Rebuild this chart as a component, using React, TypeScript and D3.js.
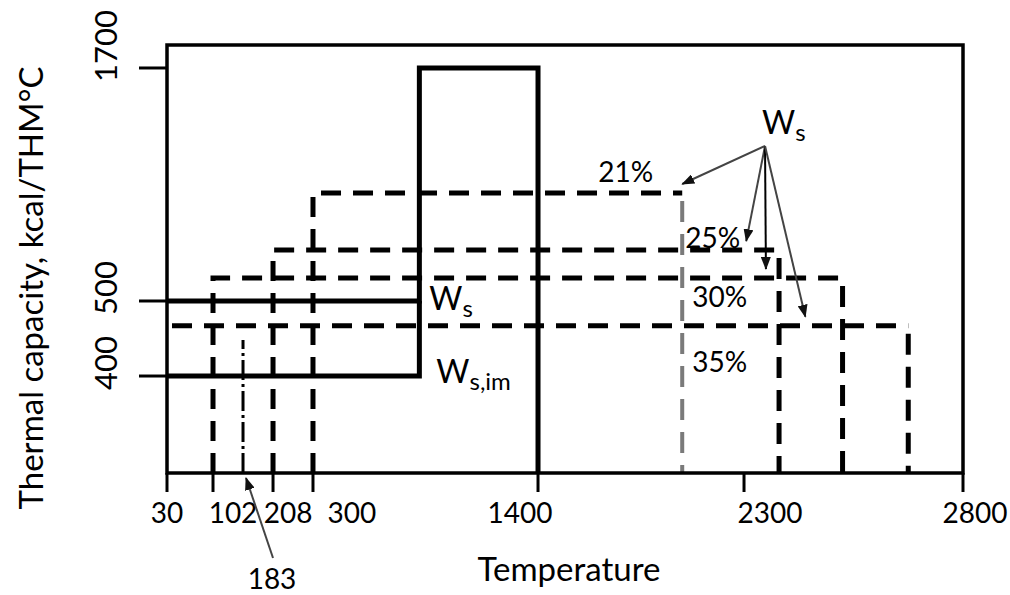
import React, { useEffect, useRef } from 'react';
import * as d3 from 'd3';

// tick values shown on the axes (the drawing is schematic, not to scale)
const xTicks = [30, 102, 208, 300, 1400, 2300, 2800];
const yTicks = [400, 500, 1700];

// piecewise scale breakpoints (fraction of plot width / height)
const xBreaks = [30, 102, 183, 208, 300, 1400, 2300, 2800];
const xBreakPos = [0, 0.0578, 0.0955, 0.1332, 0.1834, 0.4661, 0.7249, 1];
const yBreaks = [0, 400, 500, 1700, 1800];
const yBreakPos = [0, 0.2266, 0.4019, 0.9463, 1];

// solid curves W_s and W_s,im
const wsStep = 820;
const wsEnd = 1400;
const wsLevel = 500;
const wsImLevel = 400;
const wsPeak = 1700;

// dashed W_s curves for moisture contents
const moisture = ['21%', '25%', '30%', '35%'];
const moistStart = [300, 208, 102, 30];
const moistEnd = [2030, 2380, 2525, 2675];
const moistLevel = [1056, 762, 618, 467];
const arrowTargetX = [2030, 2305, 2350, 2440];

// dash-dot marker line at 183
const markT = 183;
const markTop = 448;

const App = () => {
  const svgRef = useRef(null);

  useEffect(() => {
    const width = 1010;
    const height = 595;
    const margin = { top: 45, right: 47, bottom: 122, left: 167 };
    const w = width - margin.left - margin.right;
    const h = height - margin.top - margin.bottom;
    const font = 'Lato, "Open Sans", sans-serif';

    const svg = d3.select(svgRef.current).attr('width', width).attr('height', height);
    svg.selectAll('*').remove();

    const x = d3.scaleLinear().domain(xBreaks).range(xBreakPos.map(f => f * w));
    const y = d3.scaleLinear().domain(yBreaks).range(yBreakPos.map(f => h - f * h));

    const defs = svg.append('defs');
    defs.append('marker')
      .attr('id', 'arr')
      .attr('markerUnits', 'userSpaceOnUse')
      .attr('markerWidth', 14)
      .attr('markerHeight', 10)
      .attr('refX', 12)
      .attr('refY', 5)
      .attr('orient', 'auto')
      .append('path')
      .attr('d', 'M0,0 L13,5 L0,10 z')
      .attr('fill', '#111');

    const g = svg.append('g').attr('transform', `translate(${margin.left},${margin.top})`);
    const line = d3.line().x(d => x(d[0])).y(d => y(d[1]));

    // dashed moisture curves
    moisture.forEach((m, i) => {
      const pts = moistStart[i] === 30
        ? [[moistStart[i], moistLevel[i]], [moistEnd[i], moistLevel[i]]]
        : [[moistStart[i], 0], [moistStart[i], moistLevel[i]], [moistEnd[i], moistLevel[i]]];
      g.append('path')
        .attr('d', line(pts))
        .attr('fill', 'none')
        .attr('stroke', '#000')
        .attr('stroke-width', 5)
        .attr('stroke-dasharray', '20 12')
        .attr('stroke-dashoffset', moistStart[i] === 30 ? -5 : 0);
      g.append('path')
        .attr('d', line([[moistEnd[i], moistLevel[i]], [moistEnd[i], 0]]))
        .attr('fill', 'none')
        .attr('stroke', i === 0 ? '#7a7a7a' : '#000')
        .attr('stroke-width', i === 0 ? 4 : 5)
        .attr('stroke-dasharray', '21 12')
        .attr('stroke-dashoffset', -8);
    });

    // dash-dot line at 183
    g.append('path')
      .attr('d', line([[markT, 0], [markT, markTop]]))
      .attr('stroke', '#000')
      .attr('stroke-width', 3)
      .attr('stroke-dasharray', '20 4 3 4');

    // solid W_s and W_s,im
    g.append('path')
      .attr('d', line([[30, wsLevel], [wsStep, wsLevel], [wsStep, wsPeak], [wsEnd, wsPeak], [wsEnd, 0]]))
      .attr('fill', 'none')
      .attr('stroke', '#000')
      .attr('stroke-width', 5);
    g.append('path')
      .attr('d', line([[30, wsImLevel], [wsStep, wsImLevel], [wsStep, wsLevel]]))
      .attr('fill', 'none')
      .attr('stroke', '#000')
      .attr('stroke-width', 5);

    // frame
    g.append('rect')
      .attr('width', w)
      .attr('height', h)
      .attr('fill', 'none')
      .attr('stroke', '#000')
      .attr('stroke-width', 3.5);

    // x ticks + labels (labels sit a little off their ticks, as in the source)
    const xLabelDx = [0, 20, 15, 39, -18, 26, 12];
    g.selectAll('.xt')
      .data(xTicks)
      .enter()
      .append('line')
      .attr('x1', d => x(d)).attr('x2', d => x(d))
      .attr('y1', h).attr('y2', h + 19)
      .attr('stroke', '#000').attr('stroke-width', 3);
    g.selectAll('.xl')
      .data(xTicks)
      .enter()
      .append('text')
      .attr('x', (d, i) => x(d) + xLabelDx[i])
      .attr('y', h + 50)
      .attr('text-anchor', 'middle')
      .style('font-family', font)
      .style('font-size', '28px')
      .text(d => d);

    // y ticks + labels
    g.selectAll('.yt')
      .data(yTicks)
      .enter()
      .append('line')
      .attr('x1', -28).attr('x2', 0)
      .attr('y1', d => y(d)).attr('y2', d => y(d))
      .attr('stroke', '#000').attr('stroke-width', 3);
    g.selectAll('.yl')
      .data(yTicks)
      .enter()
      .append('text')
      .attr('transform', d => `translate(-50,${y(d) + 14}) rotate(-90)`)
      .attr('text-anchor', 'start')
      .style('font-family', font)
      .style('font-size', '31px')
      .text(d => d);

    // axis titles
    g.append('text')
      .attr('x', 402)
      .attr('y', h + 108)
      .attr('text-anchor', 'middle')
      .style('font-family', font)
      .style('font-size', '33px')
      .text('Temperature');
    g.append('text')
      .attr('transform', `translate(-124,${h / 2 + 29}) rotate(-90)`)
      .attr('text-anchor', 'middle')
      .style('font-family', font)
      .style('font-size', '33px')
      .text('Thermal capacity, kcal/THM°C');

    // W_s labels next to the solid curves
    const wLabel = (px, py, sub) => {
      const t = g.append('text')
        .attr('x', px)
        .attr('y', py)
        .style('font-family', font)
        .style('font-size', '32px');
      t.append('tspan').text('W');
      t.append('tspan').attr('dy', 7).style('font-size', '24px').text(sub);
    };
    wLabel(x(wsStep) + 10, y(wsLevel) + 9, 's');
    wLabel(x(wsStep) + 17, y(wsImLevel) + 7, 's,im');
    wLabel(x(2300) + 18, y(wsPeak) + 66, 's');

    // percent labels
    const gx = x(moistEnd[0]);
    const pctPlace = [[-29, -11, 'end'], [3, -2, 'start'], [10, 29, 'start'], [10, 46, 'start']];
    moisture.forEach((m, i) => {
      g.append('text')
        .attr('x', gx + pctPlace[i][0])
        .attr('y', y(moistLevel[i]) + pctPlace[i][1])
        .attr('text-anchor', pctPlace[i][2])
        .style('font-family', font)
        .style('font-size', '28px')
        .text(m);
    });

    // arrows from the W_s label to each curve
    const ox = x(2300) + 21;
    const oy = y(wsPeak) + 78;
    moisture.forEach((m, i) => {
      g.append('line')
        .attr('x1', ox).attr('y1', oy)
        .attr('x2', x(arrowTargetX[i]))
        .attr('y2', y(moistLevel[i]) - 9)
        .attr('stroke', i === 2 ? '#000' : '#444')
        .attr('stroke-width', 2)
        .attr('marker-end', 'url(#arr)');
    });

    // 183 annotation
    g.append('line')
      .attr('x1', x(markT) + 30).attr('y1', h + 85)
      .attr('x2', x(markT) + 3).attr('y2', h + 5)
      .attr('stroke', '#444')
      .attr('stroke-width', 2)
      .attr('marker-end', 'url(#arr)');
    g.append('text')
      .attr('x', x(markT) + 29)
      .attr('y', h + 116)
      .attr('text-anchor', 'middle')
      .style('font-family', font)
      .style('font-size', '28px')
      .text(markT);
  }, []);

  return (
    <svg ref={svgRef} style={{ position: 'absolute', left: 0, top: 0, background: '#fff' }}></svg>
  );
};

export default App;
